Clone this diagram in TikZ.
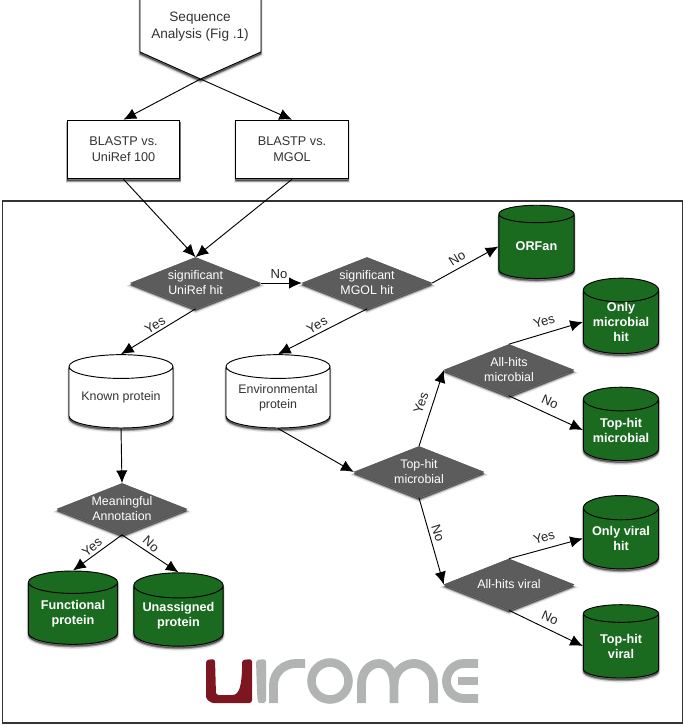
\documentclass[tikz,border=0pt]{standalone}
\usepackage{fontspec}
\setmainfont{Liberation Sans}
\usetikzlibrary{shapes.geometric,arrows.meta}
\definecolor{dgreen}{HTML}{1A6B20}
\definecolor{dgray}{HTML}{5C5C5C}
\definecolor{logored}{HTML}{7D1620}
\definecolor{logogray}{HTML}{B2B4B4}
\tikzset{
  softshadow/.style={
    preaction={draw=black,fill=black,line width=2.4pt,opacity=.10,transform canvas={yshift=-2.2pt}},
    preaction={draw=black,fill=black,line width=1.2pt,opacity=.22,transform canvas={yshift=-1.8pt}},
    preaction={draw=black,fill=black,line width=.3pt,opacity=.35,transform canvas={yshift=-1.2pt}}},
  boxnode/.style={rectangle,draw=black,line width=.7pt,fill=white,softshadow,minimum width=84.5pt,minimum height=44pt,align=center,text=black!80,font=\fontsize{9.5}{12}\selectfont},
  decision/.style={diamond,fill=dgray,draw=black!70,line width=.3pt,minimum width=97.5pt,minimum height=38.5pt,inner sep=0pt,softshadow,align=center,text=white,aspect=2.5,font=\fontsize{9.3}{11.3}\selectfont},
  store/.style={cylinder,shape border rotate=90,aspect=.42,draw=black,line width=.7pt,softshadow,minimum width=56.5pt,minimum height=55pt,inner sep=0pt,align=center},
  goodstore/.style={store,fill=dgreen,text=white,font=\fontsize{9.5}{11.3}\selectfont\bfseries},
  widestore/.style={goodstore,minimum width=67pt,aspect=.35},
  plainstore/.style={store,fill=white,text=black!80,minimum width=78pt,minimum height=55pt,aspect=.3,font=\fontsize{9.3}{11.3}\selectfont},
  conn/.style={-{Latex[length=9.5pt,width=8.5pt]},line width=.7pt,black},
  lab/.style={font=\fontsize{9.8}{12}\selectfont,text=black!85,inner sep=0pt},
  logostroke/.style={draw=logogray,line width=6.6pt,line cap=butt}
}
\begin{document}
\begin{tikzpicture}[x=.75pt,y=-.75pt]
\useasboundingbox (0,0) rectangle (685,726);
\fill[white] (0,0) rectangle (685,726);
\node[draw=black!80,line width=.8pt,minimum width=510.5pt,minimum height=391.5pt,inner sep=0pt] (frame) at (342.5,462) {};

% start shape
\draw[draw=black,line width=.7pt,fill=white,softshadow] (140,-2) -- (261,-2) -- (261,52) -- (200.5,79) -- (140,52) -- cycle;
\node[inner sep=0pt,align=center,text=black!80,font=\fontsize{10.2}{12.8}\selectfont] (seq) at (200,27) {Sequence\\Analysis (Fig .1)};
\coordinate (seqtip) at (200.5,79);

\node[boxnode] (b1) at (123.5,149.5) {BLASTP vs.\\UniRef 100};
\node[boxnode] (b2) at (292,149.5) {BLASTP vs.\\MGOL};

\node[decision] (uni) at (195.5,283) {significant\\UniRef hit};
\node[decision] (mgol) at (367,283) {significant\\MGOL hit};
\node[decision] (allm) at (509,370) {All-hits\\microbial};
\node[decision] (top) at (419,472) {Top-hit\\microbial};
\node[decision] (allv) at (509,584.5) {All-hits viral};
\node[decision] (mean) at (122,509) {Meaningful\\Annotation};

\node[goodstore] (orf) at (536.5,246.5) {ORFan};
\node[goodstore] (om) at (621,322) {Only\\microbial\\hit};
\node[goodstore] (tm) at (621,430) {Top-hit\\microbial};
\node[goodstore] (ov) at (621,538.5) {Only viral\\hit};
\node[goodstore] (tv) at (621,646) {Top-hit\\viral};
\node[widestore] (func) at (73,613.5) {Functional\\protein};
\node[widestore] (unas) at (178.5,616) {Unassigned\\protein};
\node[plainstore] (known) at (121,397.5) {Known protein};
\node[plainstore] (env) at (278,397.5) {Environmental\\protein};

\draw[conn] (seqtip) -- (b1.north);
\draw[conn] (seqtip) -- (b2.north);
\draw[conn] (b1.south) -- (uni.north);
\draw[conn] (b2.south) -- (uni.north);
\draw[conn] (uni.east) -- (mgol.west);
\draw[conn] (mgol.east) -- (orf.west);
\draw[conn] (mgol.south) -- (env.north);
\draw[conn] (uni.south) -- (known.north);
\draw[conn] (known.south) -- (mean.north);
\draw[conn] (mean.south) -- (func.north);
\draw[conn] (mean.south) -- (unas.north);
\draw[conn] (env.south) -- (top.west);
\draw[conn] (top.north) -- (allm.west);
\draw[conn] (top.south) -- (allv.west);
\draw[conn] (allm.north) -- (om.west);
\draw[conn] (allm.south) -- (tm.west);
\draw[conn] (allv.north) -- (ov.west);
\draw[conn] (allv.south) -- (tv.west);

\node[lab] (l1) at (279,274) {No};
\node[lab,rotate=32] (l2) at (457,258) {No};
\node[lab,rotate=29] (l3) at (317,325) {Yes};
\node[lab,rotate=31] (l4) at (155,325) {Yes};
\node[lab,rotate=38] (l5) at (92,547) {Yes};
\node[lab,rotate=-42] (l6) at (151,544) {No};
\node[lab,rotate=71] (l7) at (421,403) {Yes};
\node[lab,rotate=-72] (l8) at (438,533) {No};
\node[lab,rotate=17] (l9) at (544,321) {Yes};
\node[lab,rotate=-24] (l10) at (550,402) {No};
\node[lab,rotate=17] (l11) at (544,537) {Yes};
\node[lab,rotate=-24] (l12) at (550,618) {No};

% logo
\fill[logored,rounded corners=2pt] (206,660) -- (215,659) -- (216,695) -- (230,695) to[out=0,in=265] (242,672) -- (242,660) -- (252,659) -- (252,703) -- (216,703) to[out=180,in=270] (206,694) -- cycle;
\fill[logogray,rounded corners=2pt] (256,660) -- (266,659) -- (266,703) -- (262,703) to[out=180,in=275] (257,692) -- cycle;
\draw[logostroke] (273.5,703) -- (273.5,685) to[out=90,in=180] (296,663.5) -- (305,663.5);
\draw[logostroke,line width=6.4pt] (330,681) circle[radius=18.5];
\draw[logostroke] (361.5,703) -- (361.5,684) to[out=90,in=180] (379,663.5) to[out=0,in=90] (394,684) -- (394,703);
\draw[logostroke] (394,684) to[out=90,in=180] (414,663.5) to[out=0,in=90] (433.5,684) -- (433.5,703);
\draw[logostroke] (478,663.5) -- (464,663.5) to[out=180,in=90] (446.5,681) to[out=270,in=180] (464,698.5) -- (478,698.5);
\draw[logostroke] (458,681) -- (478,681);
\end{tikzpicture}
\end{document}
